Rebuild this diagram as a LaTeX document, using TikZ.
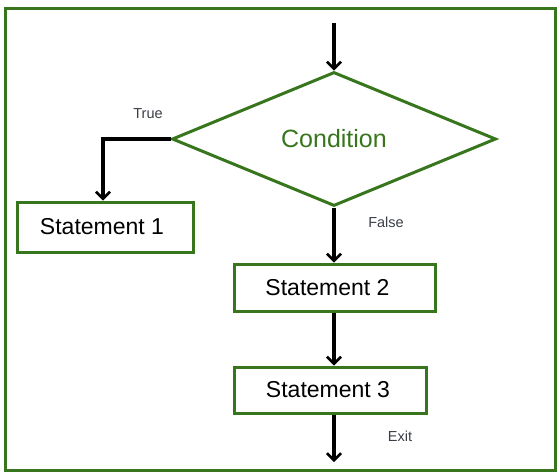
\documentclass[tikz,border=0pt]{standalone}
\usepackage{fontspec}
\setmainfont{Liberation Sans}
\usetikzlibrary{arrows.meta, positioning, shapes.geometric}

\definecolor{boxgreen}{RGB}{56,118,29}
\definecolor{labelgray}{RGB}{58,62,70}

\tikzset{
  stmtbox/.style={draw=boxgreen, line width=3pt, rectangle, inner sep=0pt,
    font=\fontsize{23}{27}\selectfont},
  flowline/.style={line width=3.2pt, -{Straight Barb[length=7pt, width=14pt, line width=2.5pt]}},
  branchlabel/.style={text=labelgray, font=\fontsize{14.5}{17}\selectfont}
}

\begin{document}
\begin{tikzpicture}[x=1pt, y=-1pt]
  % Page and frame
  \useasboundingbox (0,0) rectangle (560,475);
  \draw[boxgreen, line width=3pt] (5,8) rectangle (555,470);

  % Decision
  \node[diamond, draw=boxgreen, line width=3pt, minimum width=324pt, minimum height=134pt,
    inner sep=0pt, text=boxgreen, font=\fontsize{25}{30}\selectfont] (cond) at (334,139) {Condition};

  % Statements
  \node[stmtbox, minimum width=176pt, minimum height=50pt] (s1) at (105,227) {\hspace*{-6pt}Statement 1};
  \node[stmtbox, minimum width=201pt, minimum height=47pt] (s2) at (334.5,287.5) {\hspace*{-14pt}Statement 2};
  \node[stmtbox, minimum width=192pt, minimum height=46pt] (s3) at (330,390) {\hspace*{-4pt}Statement 3};

  % Entry and exit points
  \coordinate (start) at (334,23);
  \coordinate (exit) at (334,462);

  % Connectors
  \draw[flowline] (start) -- (cond.north);
  \draw[flowline] (cond.west) -| ([xshift=-2pt]s1.north);
  \draw[flowline] (cond.south) -- (cond.south |- s2.north);
  \draw[flowline] (cond.south |- s2.south) -- (cond.south |- s3.north);
  \draw[flowline] (cond.south |- s3.south) -- (exit);

  % Labels
  \node[branchlabel] (truelbl) at (148,114) {True};
  \node[branchlabel] (falselbl) at (386,222) {False};
  \node[branchlabel] (exitlbl) at (400,436) {Exit};
\end{tikzpicture}
\end{document}
